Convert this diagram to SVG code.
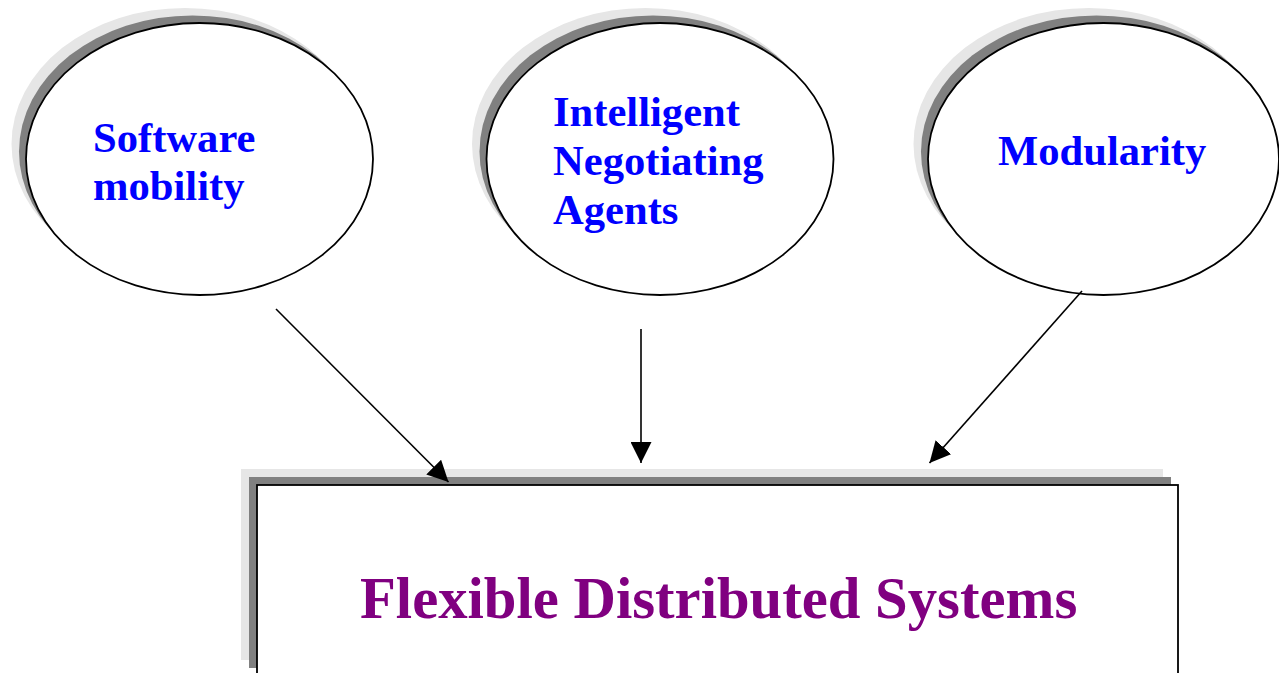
<svg xmlns="http://www.w3.org/2000/svg" width="1279" height="673" viewBox="0 0 1279 673">
  <style>
    .shadow-light { fill: #e6e6e6; }
    .shadow-dark { fill: #808080; }
    .shape { fill: #ffffff; stroke: #000000; stroke-width: 1.8; }
    .label { font-family: "Liberation Serif", "Times New Roman", serif; font-weight: bold; font-size: 42.6px; fill: #0000ff; }
    .title { font-family: "Liberation Serif", "Times New Roman", serif; font-weight: bold; font-size: 58.7px; fill: #800080; }
    .link { stroke: #000000; stroke-width: 1.6; fill: none; marker-end: url(#arrow); }
  </style>
  <defs>
    <marker id="arrow" viewBox="0 0 20 20" refX="20" refY="10" markerWidth="21" markerHeight="21" markerUnits="userSpaceOnUse" orient="auto">
      <path d="M0,0 L20,10 L0,20 z" fill="#000000"/>
    </marker>
  </defs>

  <rect width="1279" height="673" fill="#ffffff"/>

  <!-- Concept: software mobility -->
  <g id="node-software-mobility">
    <ellipse class="shadow-light" cx="185" cy="144" rx="173.5" ry="136"/>
    <ellipse class="shadow-dark" cx="192.5" cy="151.5" rx="173.5" ry="136"/>
    <ellipse class="shape" cx="199.5" cy="159" rx="173.5" ry="136"/>
    <text class="label" x="93" y="152">Software</text>
    <text class="label" x="93" y="200">mobility</text>
  </g>

  <!-- Concept: intelligent negotiating agents -->
  <g id="node-intelligent-agents">
    <ellipse class="shadow-light" cx="645.5" cy="144" rx="173.5" ry="136"/>
    <ellipse class="shadow-dark" cx="653" cy="151.5" rx="173.5" ry="136"/>
    <ellipse class="shape" cx="660" cy="159" rx="173.5" ry="136"/>
    <text class="label" x="553" y="126">Intelligent</text>
    <text class="label" x="553" y="175">Negotiating</text>
    <text class="label" x="553" y="224">Agents</text>
  </g>

  <!-- Concept: modularity -->
  <g id="node-modularity">
    <ellipse class="shadow-light" cx="1089" cy="144" rx="175.5" ry="136"/>
    <ellipse class="shadow-dark" cx="1096.5" cy="151.5" rx="175.5" ry="136"/>
    <ellipse class="shape" cx="1103.5" cy="159" rx="175.5" ry="136"/>
    <text class="label" x="998" y="165">Modularity</text>
  </g>

  <!-- Result: flexible distributed systems -->
  <g id="node-flexible-systems">
    <rect class="shadow-light" x="241" y="469" width="922" height="191"/>
    <rect class="shadow-dark" x="249" y="477" width="922" height="191"/>
    <rect class="shape" x="257" y="485" width="921" height="200"/>
    <text class="title" x="360" y="618">Flexible Distributed Systems</text>
  </g>

  <!-- Connectors -->
  <g id="connectors">
    <line class="link" x1="276" y1="309" x2="448.5" y2="482"/>
    <line class="link" x1="641" y1="329" x2="641" y2="463"/>
    <line class="link" x1="1082" y1="291" x2="929.5" y2="463"/>
  </g>
</svg>
